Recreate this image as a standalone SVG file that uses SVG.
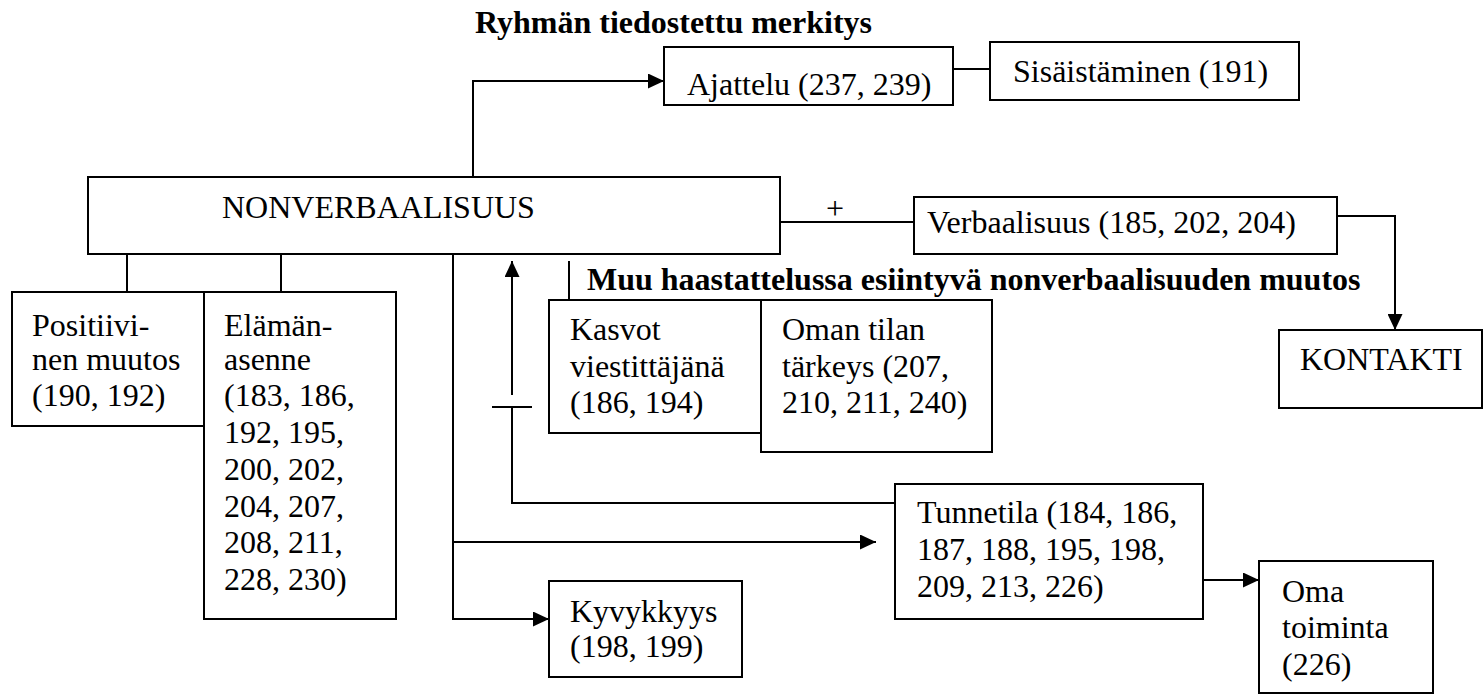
<svg xmlns="http://www.w3.org/2000/svg" width="1483" height="695" viewBox="0 0 1483 695" font-family="Liberation Serif, Times New Roman, DejaVu Serif, serif">
<style>
  rect.box { fill: #fff; stroke: #000; stroke-width: 2; }
  .c { fill: none; stroke: #000; stroke-width: 2; }
  text { font-family: 'Liberation Serif', 'Times New Roman', 'DejaVu Serif', serif; font-size: 32px; fill: #000; }
  text.b { font-weight: bold; }
</style>
<defs>
  <marker id="ah" markerWidth="16" markerHeight="15" refX="16" refY="7.5" orient="auto" markerUnits="userSpaceOnUse">
    <path d="M0,0 L16,7.5 L0,15 Z" fill="#000"/>
  </marker>
</defs>
<rect width="1483" height="695" fill="#fff"/>

<g id="connectors">
  <polyline class="c" points="473,177 473,81 664,81" marker-end="url(#ah)"/>
  <line class="c" x1="953" y1="69" x2="990" y2="69"/>
  <line class="c" x1="780" y1="222" x2="914" y2="222"/>
  <text x="835" y="219" text-anchor="middle">+</text>
  <polyline class="c" points="1337,216 1395,216 1395,330" marker-end="url(#ah)"/>
  <line class="c" x1="127" y1="254" x2="127" y2="292"/>
  <line class="c" x1="281" y1="254" x2="281" y2="292"/>
  <polyline class="c" points="453,254 453,619 549,619" marker-end="url(#ah)"/>
  <line class="c" x1="453" y1="542" x2="876" y2="542" marker-end="url(#ah)"/>
  <polyline class="c" points="895,503 512,503 512,407"/>
  <line class="c" x1="492" y1="407" x2="532" y2="407"/>
  <line class="c" x1="512" y1="395" x2="512" y2="261" marker-end="url(#ah)"/>
  <line class="c" x1="569" y1="261" x2="569" y2="300"/>
  <line class="c" x1="1203" y1="580" x2="1259" y2="580" marker-end="url(#ah)"/>
</g>

<text class="b" x="475" y="33">Ryhmän tiedostettu merkitys</text>
<text class="b" x="587" y="290">Muu haastattelussa esiintyvä nonverbaalisuuden muutos</text>

<g id="nonverbaalisuus">
  <rect class="box" x="88" y="177" width="692" height="77"/>
  <text x="222" y="218">NONVERBAALISUUS</text>
</g>
<g id="ajattelu">
  <rect class="box" x="664" y="47" width="289" height="58"/>
  <text x="687" y="95">Ajattelu (237, 239)</text>
</g>
<g id="sisaistaminen">
  <rect class="box" x="990" y="42" width="309" height="58"/>
  <text x="1013" y="82">Sisäistäminen (191)</text>
</g>
<g id="verbaalisuus">
  <rect class="box" x="914" y="197" width="423" height="57"/>
  <text x="927" y="233">Verbaalisuus (185, 202, 204)</text>
</g>
<g id="kontakti">
  <rect class="box" x="1279" y="330" width="203" height="78"/>
  <text x="1300" y="370">KONTAKTI</text>
</g>
<g id="positiivinen">
  <rect class="box" x="12" y="292" width="192" height="134"/>
  <text x="32" y="336">Positiivi-</text>
  <text x="32" y="370">nen muutos</text>
  <text x="32" y="406">(190, 192)</text>
</g>
<g id="elamanasenne">
  <rect class="box" x="204" y="292" width="192" height="327"/>
  <text x="224" y="336">Elämän-</text>
  <text x="224" y="370">asenne</text>
  <text x="224" y="406">(183, 186,</text>
  <text x="224" y="443">192, 195,</text>
  <text x="224" y="480">200, 202,</text>
  <text x="224" y="517">204, 207,</text>
  <text x="224" y="553">208, 211,</text>
  <text x="224" y="590">228, 230)</text>
</g>
<g id="kasvot">
  <rect class="box" x="549" y="300" width="212" height="133"/>
  <text x="570" y="340">Kasvot</text>
  <text x="570" y="377">viestittäjänä</text>
  <text x="570" y="413">(186, 194)</text>
</g>
<g id="omantilan">
  <rect class="box" x="761" y="300" width="231" height="152"/>
  <text x="782" y="340">Oman tilan</text>
  <text x="782" y="377">tärkeys (207,</text>
  <text x="782" y="413">210, 211, 240)</text>
</g>
<g id="tunnetila">
  <rect class="box" x="895" y="484" width="308" height="135"/>
  <text x="917" y="523">Tunnetila (184, 186,</text>
  <text x="917" y="560">187, 188, 195, 198,</text>
  <text x="917" y="597">209, 213, 226)</text>
</g>
<g id="kyvykkyys">
  <rect class="box" x="549" y="581" width="193" height="96"/>
  <text x="570" y="622">Kyvykkyys</text>
  <text x="570" y="657">(198, 199)</text>
</g>
<g id="omatoiminta">
  <rect class="box" x="1259" y="561" width="174" height="132"/>
  <text x="1282" y="602">Oma</text>
  <text x="1282" y="638">toiminta</text>
  <text x="1282" y="675">(226)</text>
</g>
</svg>
